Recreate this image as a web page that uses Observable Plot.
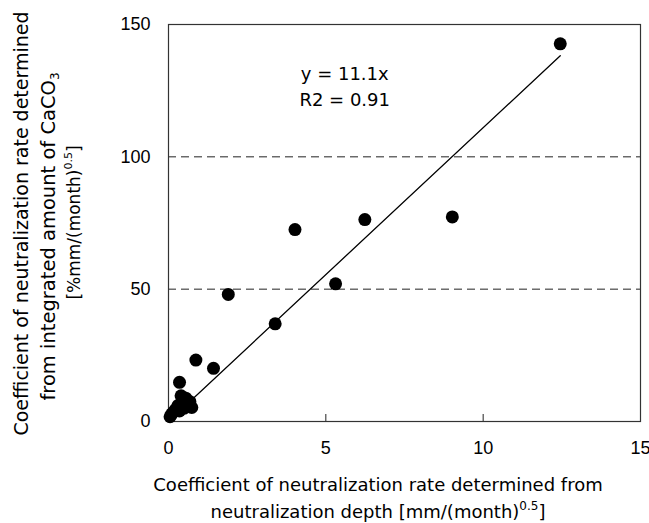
<!DOCTYPE html>
<html><head><meta charset="utf-8">
<script src="https://cdn.jsdelivr.net/npm/d3@7"></script>
<script src="https://cdn.jsdelivr.net/npm/@observablehq/plot@0.6"></script>
<style>body{margin:0;background:#fff}</style>
</head><body><div id="chart"></div>
<script>
// Data
const xValues = [12.45, 9.02, 6.24, 4.02, 5.31, 3.39, 1.90, 1.43, 0.87, 0.35,
                 0.40, 0.55, 0.45, 0.62, 0.74, 0.68, 0.30, 0.22, 0.15, 0.10, 0.05, 0.35, 0.50];
const yValues = [142.7, 77.3, 76.3, 72.5, 52.0, 36.9, 48.0, 20.1, 23.2, 14.8,
                 9.7, 8.8, 7.0, 6.5, 5.3, 7.5, 6.0, 4.5, 3.5, 2.8, 1.8, 4.0, 5.0];
const xTicks = [0, 5, 10, 15];
const yTicks = [0, 50, 100, 150];
const innerXTicks = [5, 10];
const gridLines = [50, 100];
const slope = 11.1;
const fitRange = [0, 12.45];
const equationLines = ["y = 11.1x", "R2 = 0.91"];
const equationX = 5.6;
const equationY = [131.1, 121.5];

const points = xValues.map((x, i) => ({x, y: yValues[i]}));
const fit = fitRange.map(x => ({x, y: slope * x}));
const eq = equationLines.map((t, i) => ({t, x: equationX, y: equationY[i]}));

const font = "'Liberation Sans', Arial, sans-serif";
const titleFont = "'DejaVu Sans', sans-serif";
const W = 649, H = 523, mL = 168, mR = 9, mT = 24, mB = 102;

const chart = Plot.plot({
  width: W, height: H,
  marginLeft: mL, marginRight: mR, marginTop: mT, marginBottom: mB,
  style: {fontFamily: font, fontSize: "18px", background: "#fff", color: "#000"},
  x: {domain: [0, 15]},
  y: {domain: [0, 150]},
  marks: [
    Plot.ruleY(gridLines, {stroke: "#222", strokeWidth: 1, strokeDasharray: "8,5"}),
    Plot.axisX(innerXTicks, {tickSize: -7, text: null, stroke: "#222", label: null}),
    Plot.axisX(xTicks, {tickSize: 0, tickPadding: 20, fontSize: 18, label: null}),
    Plot.axisY(yTicks, {tickSize: 0, tickPadding: 18, fontSize: 18, label: null}),
    Plot.frame({stroke: "#333", strokeWidth: 1.2}),
    Plot.line(fit, {x: "x", y: "y", stroke: "#000", strokeWidth: 1.3}),
    Plot.dot(points, {x: "x", y: "y", r: 6.5, fill: "#000", stroke: "none"}),
    Plot.text(eq, {x: "x", y: "y", text: "t", fontSize: 18, fill: "#000", fontFamily: titleFont})
  ]
});
document.getElementById("chart").appendChild(chart);

const svg = d3.select(chart);
const cx = mL + (W - mL - mR) / 2 - 26;
// X axis title
svg.append("text").attr("x", cx).attr("y", 491)
  .attr("text-anchor", "middle").attr("font-size", 18).attr("font-family", titleFont)
  .text("Coefficient of neutralization rate determined from");
const xt2 = svg.append("text").attr("x", cx).attr("y", 518)
  .attr("text-anchor", "middle").attr("font-size", 18).attr("font-family", titleFont);
xt2.append("tspan").text("neutralization depth [mm/(month)");
xt2.append("tspan").attr("dy", -8).attr("font-size", 12).text("0.5");
xt2.append("tspan").attr("dy", 8).text("]");

// Y axis title (rotated)
const cy = mT + (H - mT - mB) / 2;
const yTitle = (xpos, ypos, size) => svg.append("text")
  .attr("transform", `translate(${xpos},${ypos}) rotate(-90)`)
  .attr("text-anchor", "middle").attr("font-size", size).attr("font-family", titleFont);
yTitle(28, cy + 1, 19).text("Coefficient of neutralization rate determined");
const l2 = yTitle(55, cy + 14, 19.5);
l2.append("tspan").text("from integrated amount of CaCO");
l2.append("tspan").attr("dy", 4).attr("font-size", 12).text("3");
const l3 = yTitle(80, cy, 17);
l3.append("tspan").text("[%mm/(month)");
l3.append("tspan").attr("dy", -8).attr("font-size", 11).text("0.5");
l3.append("tspan").attr("dy", 8).text("]");
</script>
</body></html>
